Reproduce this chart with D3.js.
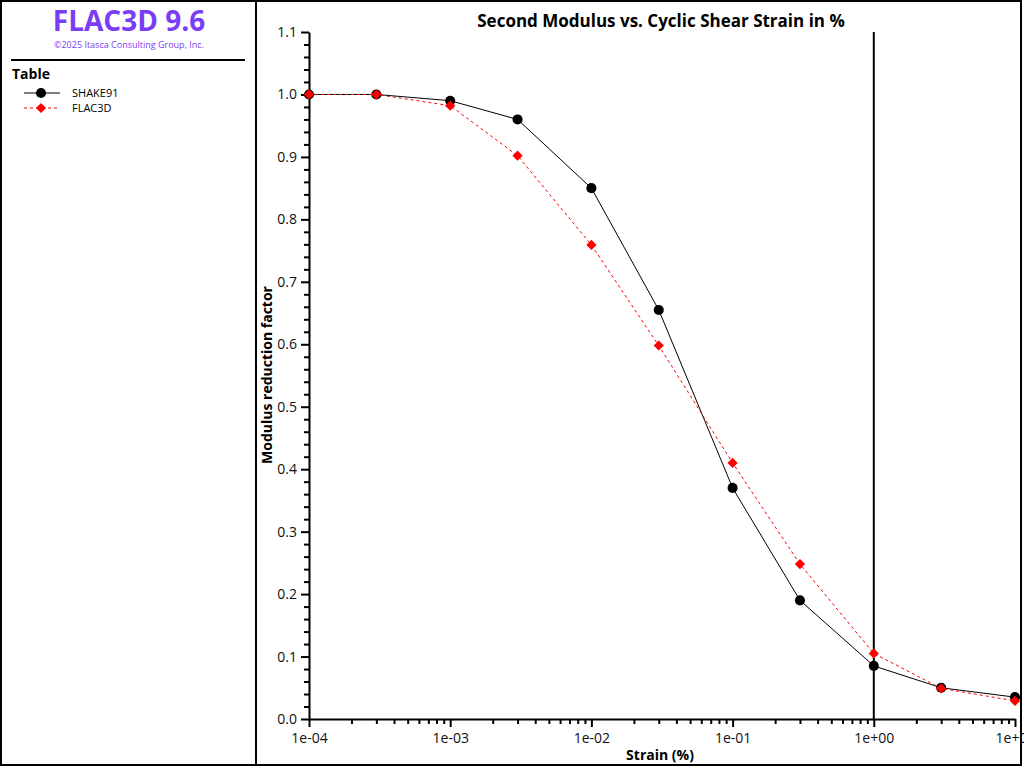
<!DOCTYPE html>
<html>
<head>
<meta charset="utf-8">
<script src="https://cdn.jsdelivr.net/npm/d3@7"></script>
<style>
  body { margin: 0; background: #fff; }
  svg { display: block; font-family: "Open Sans", "Noto Sans", sans-serif; }
</style>
</head>
<body>
<svg id="chart" width="1024" height="768"></svg>
<script>
// Data
const strain = [1e-4, 3e-4, 1e-3, 3e-3, 1e-2, 3e-2, 1e-1, 3e-1, 1, 3, 10];
const shake91 = [1.0, 1.0, 0.99, 0.96, 0.85, 0.655, 0.37, 0.19, 0.085, 0.05, 0.035];
const flac3d = [1.0, 1.0, 0.982, 0.902, 0.759, 0.598, 0.41, 0.248, 0.105, 0.049, 0.029];
const xTickLabels = ["1e-04", "1e-03", "1e-02", "1e-01", "1e+00", "1e+01"];
const yTicks = [0, 0.1, 0.2, 0.3, 0.4, 0.5, 0.6, 0.7, 0.8, 0.9, 1.0, 1.1];

const svg = d3.select("#chart");

// frame and side panel
svg.append("rect").attr("x", 1).attr("y", 1).attr("width", 1020).attr("height", 764)
  .attr("fill", "none").attr("stroke", "#000").attr("stroke-width", 2);
svg.append("line").attr("x1", 256).attr("x2", 256).attr("y1", 0).attr("y2", 766)
  .attr("stroke", "#000").attr("stroke-width", 2);

svg.append("text").attr("x", 129).attr("y", 31).attr("text-anchor", "middle")
  .attr("font-size", 28).attr("font-weight", "bold").attr("fill", "#7a3cf5")
  .text("FLAC3D 9.6");
svg.append("text").attr("x", 129).attr("y", 48).attr("text-anchor", "middle")
  .attr("font-size", 9).attr("fill", "#7a3cf5")
  .text("\u00a92025 Itasca Consulting Group, Inc.");
svg.append("line").attr("x1", 11).attr("x2", 245).attr("y1", 60).attr("y2", 60)
  .attr("stroke", "#000").attr("stroke-width", 2);
svg.append("text").attr("x", 12).attr("y", 79).attr("font-size", 14).attr("font-weight", "bold")
  .text("Table");

// markers: circle and square diamond
const circleMark = d3.symbol().type(d3.symbolCircle).size(80)();
const diamondMark = d3.symbol().type(d3.symbolSquare).size(52)();

// legend
const legendData = [
  { label: "SHAKE91", color: "#000", dash: null, mark: circleMark, rot: 0 },
  { label: "FLAC3D", color: "#ff0000", dash: "3,3", mark: diamondMark, rot: 45 }
];
const legend = svg.selectAll(".legend-item").data(legendData).enter().append("g")
  .attr("class", "legend-item")
  .attr("transform", (d, i) => `translate(0, ${93 + i * 15})`);
legend.append("line").attr("x1", 24).attr("x2", 60)
  .attr("stroke", d => d.color).attr("stroke-dasharray", d => d.dash);
legend.append("path").attr("transform", d => `translate(41,0) rotate(${d.rot})`)
  .attr("d", d => d.mark).attr("fill", d => d.color);
legend.append("text").attr("x", 72).attr("y", 4).attr("font-size", 11).text(d => d.label);

// plot area
const margin = { left: 309, right: 1015, top: 32, bottom: 719 };
const x = d3.scaleLog().domain([1e-4, 10]).range([margin.left, margin.right]);
const y = d3.scaleLinear().domain([0, 1.1]).range([margin.bottom, margin.top]);

svg.append("text").attr("x", 661).attr("y", 27).attr("text-anchor", "middle")
  .attr("font-size", 17).attr("font-weight", "bold")
  .text("Second Modulus vs. Cyclic Shear Strain in %");

// vertical line at strain = 1
svg.append("line").attr("x1", x(1)).attr("x2", x(1)).attr("y1", margin.top).attr("y2", margin.bottom)
  .attr("stroke", "#000").attr("stroke-width", 2);

// x axis
const majorX = d3.range(-4, 2).map(p => Math.pow(10, p));
const minorX = [];
d3.range(-4, 1).forEach(p => { for (let k = 2; k <= 9; k++) minorX.push(k * Math.pow(10, p)); });

const xAxisG = svg.append("g").attr("transform", `translate(0, ${margin.bottom})`);
xAxisG.call(d3.axisBottom(x).tickValues(minorX).tickSize(5).tickFormat(""));
xAxisG.call(g => g.select(".domain").remove());
xAxisG.selectAll(".tick line").attr("stroke-width", 2);
const xMajor = svg.append("g").attr("transform", `translate(0, ${margin.bottom})`)
  .call(d3.axisBottom(x).tickValues(majorX).tickSize(8).tickSizeOuter(0)
    .tickFormat((d, i) => xTickLabels[i]));
xMajor.select(".domain").attr("stroke-width", 2);
xMajor.selectAll(".tick line").attr("stroke-width", 2);
xMajor.selectAll(".tick text").attr("font-size", 14).attr("font-family", "Open Sans, sans-serif")
  .attr("dy", "0.9em").attr("fill", "#111");

svg.append("text").attr("x", 660).attr("y", 760).attr("text-anchor", "middle")
  .attr("font-size", 14).attr("font-weight", "bold").text("Strain (%)");

// y axis
const minorY = d3.range(0, 56).map(i => i * 0.02).filter(v => Math.round(v * 50) % 5 !== 0);
const yMinorG = svg.append("g").attr("transform", `translate(${margin.left}, 0)`)
  .call(d3.axisLeft(y).tickValues(minorY).tickSize(5).tickFormat(""));
yMinorG.select(".domain").remove();
yMinorG.selectAll(".tick line").attr("stroke-width", 2);
const yMajor = svg.append("g").attr("transform", `translate(${margin.left}, 0)`)
  .call(d3.axisLeft(y).tickValues(yTicks).tickSize(8).tickSizeOuter(0).tickFormat(d3.format(".1f")));
yMajor.select(".domain").attr("stroke-width", 2);
yMajor.selectAll(".tick line").attr("stroke-width", 2);
yMajor.selectAll(".tick text").attr("font-size", 14).attr("font-family", "Open Sans, sans-serif")
  .attr("x", -12).attr("fill", "#111");

svg.append("text").attr("transform", "translate(272, 375) rotate(-90)").attr("text-anchor", "middle")
  .attr("font-size", 14).attr("font-weight", "bold").text("Modulus reduction factor");

// series
const series = [
  { values: shake91, color: "#000", dash: null, mark: circleMark, rot: 0 },
  { values: flac3d, color: "#ff0000", dash: "3,3", mark: diamondMark, rot: 45 }
];
series.forEach(s => {
  const line = d3.line().x((d, i) => x(strain[i])).y(d => y(d));
  svg.append("path").datum(s.values).attr("d", line).attr("fill", "none")
    .attr("stroke", s.color).attr("stroke-width", 1).attr("stroke-dasharray", s.dash);
  svg.selectAll(null).data(s.values).enter().append("path")
    .attr("transform", (d, i) => `translate(${x(strain[i])}, ${y(d)}) rotate(${s.rot})`)
    .attr("d", s.mark)
    .attr("fill", s.color);
});
</script>
</body>
</html>
